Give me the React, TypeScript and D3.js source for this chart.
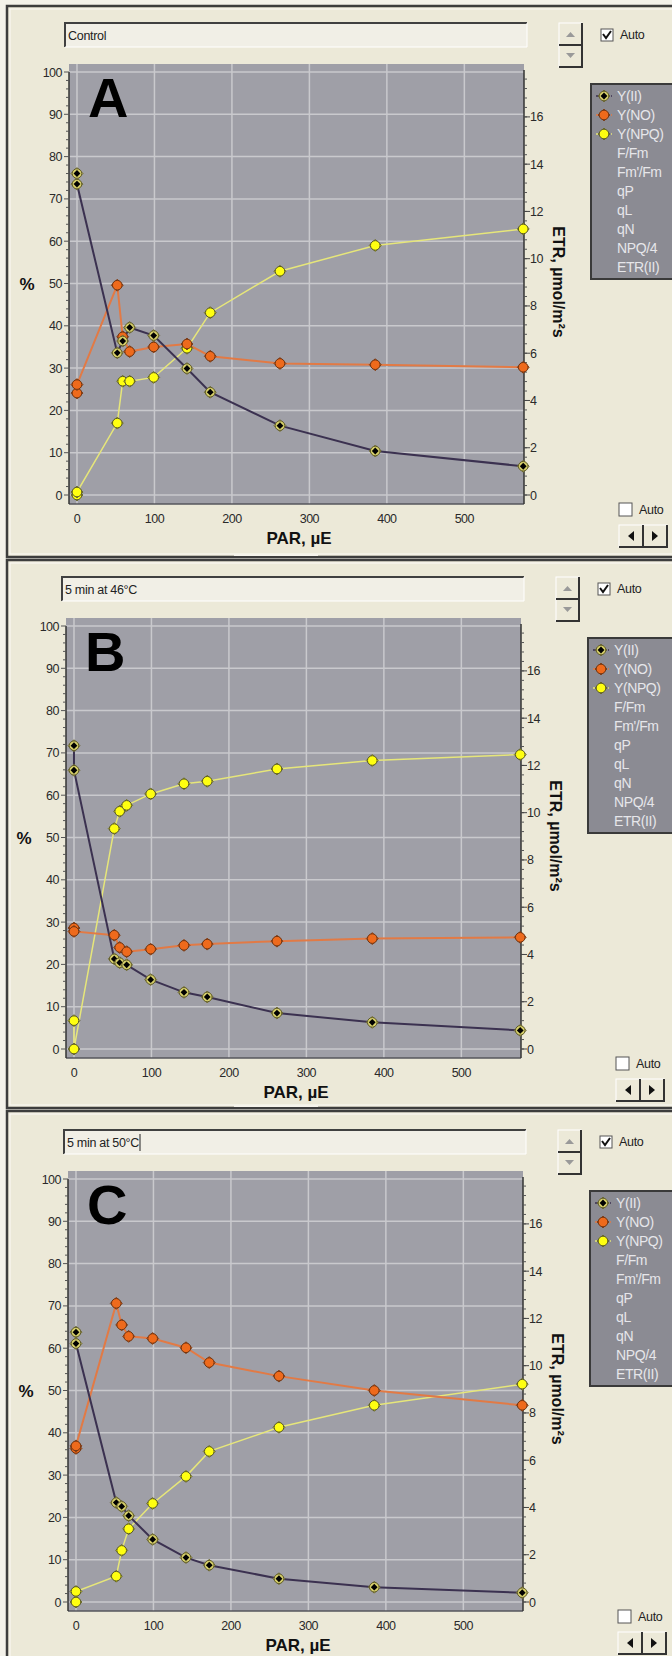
import React from "react";
import * as d3 from "d3";

// light steps (PAR, µE) - the first two are the dark measurements
const par = [0, 0, 52, 59, 68, 99, 142, 172, 262, 385, 576];

// panel A - control
const controlYII = [76, 73.5, 33.6, 36.4, 39.6, 37.7, 29.9, 24.3, 16.4, 10.4, 6.8];
const controlYNO = [24.1, 26.1, 49.6, 37.4, 33.9, 35.0, 35.7, 32.8, 31.1, 30.8, 30.2];
const controlYNPQ = [0, 0.7, 17.0, 26.9, 26.9, 27.8, 34.7, 43.1, 52.9, 59.0, 62.9];

// panel B - 5 min at 46°C
const heat46YII = [71.7, 65.9, 21.3, 20.4, 19.9, 16.4, 13.4, 12.3, 8.5, 6.3, 4.4];
const heat46YNO = [28.6, 27.8, 26.9, 24.0, 23.0, 23.6, 24.5, 24.8, 25.5, 26.1, 26.4];
const heat46YNPQ = [6.7, 0, 52.1, 56.2, 57.6, 60.3, 62.7, 63.3, 66.2, 68.2, 69.6];

// panel C - 5 min at 50°C
const heat50YII = [63.8, 61.1, 23.5, 22.6, 20.4, 14.8, 10.5, 8.7, 5.5, 3.5, 2.2];
const heat50YNO = [36.3, 36.9, 70.6, 65.5, 62.8, 62.3, 60.1, 56.6, 53.4, 50.0, 46.5];
const heat50YNPQ = [0, 2.5, 6.1, 12.2, 17.3, 23.3, 29.7, 35.6, 41.3, 46.5, 51.5];

const panelLetters = ["A", "B", "C"];
const panelTitles = ["Control", "5 min at 46°C", "5 min at 50°C"];
const legendItems = ["Y(II)", "Y(NO)", "Y(NPQ)", "F/Fm", "Fm'/Fm", "qP", "qL", "qN", "NPQ/4", "ETR(II)"];
const xTicks = [0, 100, 200, 300, 400, 500];
const leftTicks = d3.range(0, 101, 10);
const rightTicks = [0, 2, 4, 6, 8, 10, 12, 14, 16];

const BG = "#ece9d8";
const PLOT = "#9f9fa7";
const GRID = "#c9c9cd";
const FONT = "'Liberation Sans', Arial, sans-serif";

const seriesStyle = [
  { line: "#3b3150", width: 2, ring: "#d6cf6a", edge: "#5e5a2a" },
  { line: "#e27a45", width: 2, ring: "#ee6a1c", edge: "#6e3412" },
  { line: "#e6e67a", width: 1.5, ring: "#ffff10", edge: "#55552a" },
];

function Marker({ x, y, s }: { x: number; y: number; s: number }) {
  const st = seriesStyle[s];
  const d = `M${x},${y - 6}L${x + 6},${y}L${x},${y + 6}L${x - 6},${y}Z`;
  return (
    <g>
      <path d={d} fill={st.ring} stroke={st.edge} strokeWidth={0.8} />
      <circle cx={x} cy={y} r={4.8} fill={st.ring} stroke={st.edge} strokeWidth={1} />
      {s === 0 && <path d={`M${x},${y - 3.4}L${x + 3.4},${y}L${x},${y + 3.4}L${x - 3.4},${y}Z`} fill="#000" />}
    </g>
  );
}

function Frame({ y, h }: { y: number; h: number }) {
  return (
    <g>
      <rect x={7} y={y} width={700} height={h} fill={BG} stroke="#3d3d3d" strokeWidth={2.5} />
      <rect x={10} y={y + 3} width={700} height={h - 6} fill="none" stroke="#fbfaf5" strokeWidth={1} />
      <rect x={234} y={y + h - 3} width={84} height={2} fill="#f6f4ec" />
    </g>
  );
}

function Panel({ dx, dy, idx, data }: { dx: number; dy: number; idx: number; data: number[][] }) {
  const x = d3.scaleLinear().domain([-10.3, 577]).range([69, 524]);
  const y = d3.scaleLinear().domain([0, 100]).range([495, 72]);
  const etr = d3.scaleLinear().domain([0, 17.9]).range([495, 72]);
  const line = d3
    .line<number>()
    .x((_, i) => x(par[i]))
    .y((v) => y(v));

  const leftMinor = d3.range(0, 101, 2);
  const rightMinor = d3.range(0, 17.9, 0.4);

  return (
    <g transform={`translate(${dx},${dy})`} fontFamily={FONT}>
      {/* title edit box */}
      <rect x={65} y={23} width={462} height={24} fill="#f1efe6" />
      <path d="M65,47 L65,23 L527,23" fill="none" stroke="#404040" strokeWidth={2} />
      <path d="M65,47 L527,47 L527,23" fill="none" stroke="#ffffff" strokeWidth={1} />
      <text x={68} y={40} fontSize={12.5} fill="#222" letterSpacing={-0.3}>
        {panelTitles[idx]}
      </text>
      {idx === 2 && <line x1={141} x2={141} y1={27} y2={44} stroke="#222" strokeWidth={1} />}

      {/* spinner */}
      <rect x={559} y={23} width={23} height={22} fill="#ece9d8" stroke="#fff" />
      <rect x={559} y={45} width={23} height={22} fill="#ece9d8" stroke="#fff" />
      <path d="M582,23 L582,67 L559,67 M559,45 L582,45" fill="none" stroke="#333" strokeWidth={2} />
      <path d="M566,37 L575,37 L570.5,32 Z" fill="#999" />
      <path d="M566,53 L575,53 L570.5,58 Z" fill="#999" />

      {/* auto checkbox */}
      <rect x={601} y={29} width={12} height={12} fill="#fff" stroke="#555" />
      <path d="M603,34 L606,38 L611,31" fill="none" stroke="#111" strokeWidth={2} />
      <text x={620} y={39} fontSize={12.5} fill="#222" letterSpacing={-0.3}>
        Auto
      </text>

      {/* plot area */}
      <rect x={69} y={64} width={455} height={440} fill={PLOT} />
      {xTicks.map((t) => (
        <line key={"gx" + t} x1={x(t)} x2={x(t)} y1={64} y2={504} stroke={GRID} strokeWidth={1.5} />
      ))}
      {leftTicks.map((t) => (
        <line key={"gy" + t} x1={69} x2={524} y1={y(t)} y2={y(t)} stroke={GRID} strokeWidth={1.5} />
      ))}
      <line x1={69} x2={524} y1={504} y2={504} stroke="#56565c" strokeWidth={1.5} />

      {/* left axis */}
      <line x1={69} x2={69} y1={y(100)} y2={504} stroke="#333" strokeWidth={1.5} />
      {leftMinor.map((t) => (
        <line key={"lm" + t} x1={t % 10 === 0 ? 64 : 66} x2={69} y1={y(t)} y2={y(t)} stroke="#555" strokeWidth={1} />
      ))}
      {leftTicks.map((t) => (
        <text key={"lt" + t} x={62} y={y(t) + 4.5} fontSize={12.5} textAnchor="end" fill="#2a2a2a" letterSpacing={-0.5}>
          {t}
        </text>
      ))}
      <text x={27} y={290} fontSize={17} fontWeight="bold" textAnchor="middle" fill="#111">
        %
      </text>

      {/* right axis */}
      <line x1={524} x2={524} y1={70} y2={504} stroke="#333" strokeWidth={1.5} />
      {rightMinor.map((t) => (
        <line key={"rm" + t} x1={524} x2={527} y1={etr(t)} y2={etr(t)} stroke="#555" strokeWidth={1} />
      ))}
      {rightTicks.map((t) => (
        <g key={"rt" + t}>
          <line x1={524} x2={530} y1={etr(t)} y2={etr(t)} stroke="#444" strokeWidth={1} />
          <text x={530} y={etr(t) + 4.5} fontSize={12.5} fill="#2a2a2a" letterSpacing={-0.5}>
            {t}
          </text>
        </g>
      ))}
      <text
        transform="translate(553,282) rotate(90)"
        fontSize={16}
        fontWeight="bold"
        textAnchor="middle"
        fill="#111"
      >
        ETR, µmol/m²s
      </text>

      {/* x axis labels */}
      {xTicks.map((t) => (
        <text key={"xt" + t} x={x(t)} y={523} fontSize={12.5} textAnchor="middle" fill="#2a2a2a" letterSpacing={-0.5}>
          {t}
        </text>
      ))}
      <text x={299} y={544} fontSize={17} fontWeight="bold" textAnchor="middle" fill="#111">
        PAR, µE
      </text>

      {/* panel letter */}
      <text x={88} y={117} fontSize={56} fontWeight="bold" fill="#000">
        {panelLetters[idx]}
      </text>

      {/* series lines */}
      {[2, 1, 0].map((s) => (
        <path
          key={"ln" + s}
          d={line(data[s]) || ""}
          fill="none"
          stroke={seriesStyle[s].line}
          strokeWidth={seriesStyle[s].width}
        />
      ))}
      {[2, 1, 0].map((s) =>
        data[s].map((v, i) => <Marker key={"m" + s + "-" + i} x={x(par[i])} y={y(v)} s={s} />)
      )}

      {/* legend */}
      <rect x={591} y={84} width={100} height={195} fill="#8b8b93" stroke="#3a3a3a" strokeWidth={2} />
      {legendItems.map((name, i) => {
        const ly = 96 + i * 19;
        return (
          <g key={name}>
            {i < 3 && (
              <g>
                <line x1={596} x2={612} y1={ly} y2={ly} stroke={seriesStyle[i].line} strokeWidth={1.5} strokeDasharray="3,2" />
                <Marker x={604} y={ly} s={i} />
              </g>
            )}
            <text x={617} y={ly + 5} fontSize={14} fill="#e6e6ea" letterSpacing={-0.4}>
              {name}
            </text>
          </g>
        );
      })}

      {/* bottom controls */}
      <rect x={619} y={503} width={13} height={13} fill="#fff" stroke="#555" />
      <text x={639} y={514} fontSize={12.5} fill="#222" letterSpacing={-0.3}>
        Auto
      </text>
      <rect x={619} y={525} width={24} height={22} fill="#ece9d8" stroke="#fff" />
      <rect x={643} y={525} width={24} height={22} fill="#ece9d8" stroke="#fff" />
      <path d="M619,547 L667,547 L667,525 M643,525 L643,547" fill="none" stroke="#333" strokeWidth={2} />
      <path d="M628,536 L634,531 L634,541 Z" fill="#111" />
      <path d="M658,536 L652,531 L652,541 Z" fill="#111" />
    </g>
  );
}

export default function App() {
  const panels = [
    { dx: 0, dy: 0, data: [controlYII, controlYNO, controlYNPQ] },
    { dx: -3, dy: 554, data: [heat46YII, heat46YNO, heat46YNPQ] },
    { dx: -1, dy: 1107, data: [heat50YII, heat50YNO, heat50YNPQ] },
  ];
  return (
    <svg
      width={672}
      height={1656}
      style={{ position: "absolute", left: 0, top: 0, display: "block" }}
    >
      <rect width={672} height={1656} fill="#f4f2ea" />
      <Frame y={6} h={551} />
      <Frame y={560} h={548} />
      <Frame y={1111} h={560} />
      {panels.map((p, i) => (
        <Panel key={i} dx={p.dx} dy={p.dy} idx={i} data={p.data} />
      ))}
    </svg>
  );
}
